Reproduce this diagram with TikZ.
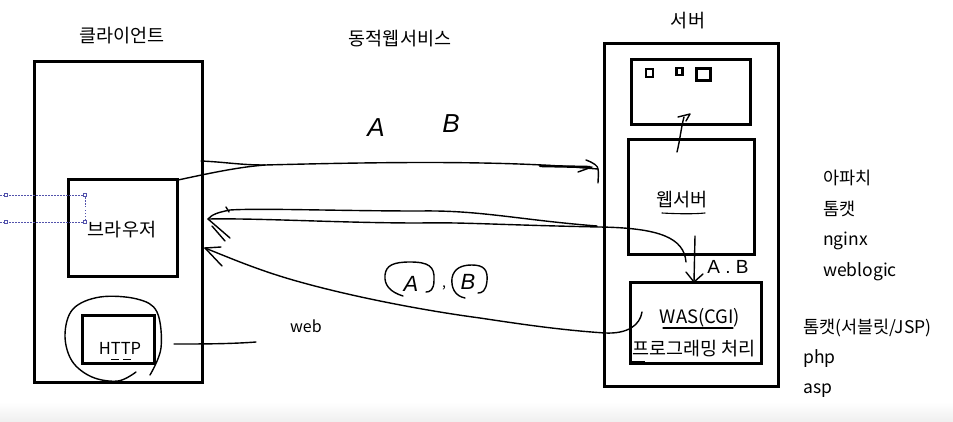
\documentclass[tikz,border=0pt]{standalone}
\usepackage{fontspec}
\setmainfont{Noto Sans CJK KR}
\newfontfamily\handfont{Liberation Sans}
\usetikzlibrary{calc}
\begin{document}
\begin{tikzpicture}[x=1pt,y=-1pt,
  box/.style={draw, line width=2.8pt, inner sep=0pt, anchor=north west},
  lbl/.style={inner sep=0pt, font=\fontsize{18.5}{20}\selectfont},
  lst/.style={inner sep=0pt, anchor=west, font=\fontsize{17.5}{19}\selectfont},
  hand/.style={line width=1.4pt, line cap=round, line join=round},
  handtxt/.style={inner sep=0pt, font=\handfont\itshape\fontsize{26}{28}\selectfont},
  sel/.style={draw=blue!35!gray, line width=0.5pt, dashed, dash pattern=on 1.5pt off 1.5pt},
  handle/.style={draw=blue!35!gray, line width=0.5pt, fill=white, minimum size=3pt, inner sep=0pt}
]
\useasboundingbox (0,0) rectangle (953,421);
\shade[top color=white, bottom color=black!6] (0,402) rectangle (953,421);

% titles
\node[lbl] (tclient) at (122,36) {클라이언트};
\node[lbl] (tdyn) at (400,39) {동적웹서비스};
\node[lbl] (tserver) at (688,21) {서버};

% client side
\node[box, minimum width=168pt, minimum height=321pt] (client) at (33,60) {};
\node[box, minimum width=109pt, minimum height=97pt] (browser) at (67,178) {};
\node[lbl] (tbrowser) at (122,230) {브라우저};
\node[box, minimum width=72pt, minimum height=48pt] (http) at (81,314) {};
\node[lbl, font=\fontsize{16.5}{18}\selectfont] (thttp) at (120,348) {HTTP};
\draw[line width=0.9pt] (111,359) -- (119,359) (123,359) -- (131,359);
\draw[hand] plot[smooth, tension=0.6] coordinates {(150,375) (161,348) (157,312) (137,299) (100,297) (73,309) (65,335) (72,361) (92,377) (118,381) (136,372)};
\coordinate (webL) at (174,344);
\coordinate (webR) at (256,342);
\draw[hand] (webL) .. controls (200,344) and (230,344) .. (webR);
\node[lst, font=\fontsize{16}{18}\selectfont] (tweb) at (290,326) {web};

% selection handles
\coordinate (s1a) at (0,195); \coordinate (s1b) at (85,195);
\coordinate (s2a) at (0,222); \coordinate (s2b) at (85,222);
\draw[sel] (s1a) -- (s1b) -- ++(0,12);
\draw[sel] (s2a) -- (s2b) -- ++(0,-12);
\node[handle] (h1) at (6,195) {};
\node[handle] (h2) at (s1b) {};
\node[handle] (h3) at (6,222) {};
\node[handle] (h4) at (s2b) {};

% server side
\node[box, minimum width=174pt, minimum height=343pt] (server) at (603,42) {};
\node[box, minimum width=119pt, minimum height=65pt] (top) at (630,58) {};
\node[draw, line width=2.2pt, minimum width=7pt, minimum height=8pt, inner sep=0pt] (sq1) at (649.5,73) {};
\node[draw, line width=2.2pt, minimum width=6pt, minimum height=7pt, inner sep=0pt] (sq2) at (679.5,71.5) {};
\node[draw, line width=2.2pt, minimum width=14pt, minimum height=12pt, inner sep=0pt] (sq3) at (703.5,74.5) {};
\node[box, minimum width=126pt, minimum height=115pt] (websrv) at (627,138) {};
\node[lbl] (twebsrv) at (682,200) {웹서버};
\draw[hand, line width=1.1pt] (662,213) .. controls (680,214) and (695,214) .. (705,213);
\node[box, minimum width=131pt, minimum height=81pt] (was) at (629,281) {};
\node[lbl] (twas) at (700,318) {WAS(CGI)};
\draw[hand, line width=1.1pt] (663,328) -- (733,328);
\node[lbl] (tprog) at (694,349) {프로그래밍 처리};
\draw[line width=0.8pt] (632,361) -- (645,361);

% small arrow web server -> top box
\coordinate (upS) at (677,152);
\coordinate (upE) at (684,117);
\draw[hand] (upS) .. controls (680,140) and (681,128) .. (upE);
\draw[hand] (678,117) -- (690,114) -- (686,121);

% arrow web server -> WAS
\coordinate (dnS) at (695,236);
\coordinate (dnE) at (694,282);
\draw[hand] (dnS) -- (dnE);
\draw[hand] (686,272) -- (694,282) -- (703,274);
\node[handtxt, font=\handfont\fontsize{19}{20}\selectfont] (tab) at (728,267) {A . B};

% right list
\node[lst] (l1) at (823,178) {아파치};
\node[lst] (l2) at (823,209) {톰캣};
\node[lst] (l3) at (823,241) {nginx};
\node[lst] (l4) at (823,272) {weblogic};
\node[lst] (l5) at (803,328) {톰캣(서블릿/JSP)};
\node[lst] (l6) at (803,359) {php};
\node[lst] (l7) at (803,391) {asp};

% handwritten A B
\node[handtxt] (hA) at (376,128) {A};
\node[handtxt] (hB) at (451,124) {B};

% request arrow
\coordinate (r1) at (201,161);
\coordinate (r2) at (178,180);
\coordinate (rm) at (265,165);
\coordinate (rE) at (598,169);
\draw[hand] (r1) .. controls (225,162) and (240,165) .. (rm);
\draw[hand] (r2) .. controls (215,172) and (240,167) .. (rm);
\draw[hand] (rm) .. controls (380,162) and (480,161) .. (560,166) -- (rE);
\draw[hand, line width=2.4pt] (540,166) -- (590,167);
\draw[hand] (586,160) .. controls (594,163) and (598,166) .. (rE) .. controls (599,174) and (598,178) .. (598,183);
\draw[hand] (578,172) -- (592,167);

% response arrow (web server -> browser)
\coordinate (bS) at (686,262);
\coordinate (bE) at (208,219);
\draw[hand] (bS) .. controls (684,238) and (660,228) .. (600,227)
  .. controls (500,225) and (460,222) .. (420,223)
  .. controls (340,223) and (260,218) .. (bE);
\draw[hand] (597,226) .. controls (520,220) and (480,210) .. (420,211)
  .. controls (340,211) and (260,208) .. (230,210) .. controls (220,212) and (212,214) .. (bE);
\draw[hand] (bE) -- (230,238);
\draw[hand] (212,226) -- (225,241);
\draw[hand] (226,207) -- (229,212);

% response arrow (WAS -> browser)
\coordinate (wS) at (642,312);
\coordinate (wE) at (205,248);
\draw[hand] (wS) .. controls (640,325) and (628,334) .. (605,333)
  .. controls (560,330) and (520,324) .. (480,318)
  .. controls (420,310) and (350,296) .. (300,282)
  .. controls (260,271) and (230,258) .. (wE);
\draw[hand] (wE) -- (221,247);
\draw[hand] (wE) -- (222,266);

% circled A, B
\node[handtxt, font=\handfont\itshape\fontsize{22}{24}\selectfont] (cA) at (411,284) {A};
\draw[hand] (403,296) .. controls (390,292) and (384,285) .. (385,275) .. controls (386,265) and (394,262) .. (410,262) .. controls (428,262) and (435,266) .. (434,280) .. controls (434,290) and (430,292) .. (426,292);
\node[inner sep=0pt, font=\fontsize{14}{14}\selectfont] (comma) at (444,288) {,};
\node[handtxt, font=\handfont\itshape\fontsize{22}{24}\selectfont] (cB) at (468,282) {B};
\draw[hand] (465,298) .. controls (455,296) and (451,288) .. (452,278) .. controls (454,268) and (462,265) .. (472,265) .. controls (484,265) and (488,270) .. (487,281) .. controls (486,291) and (482,293) .. (478,293);
\end{tikzpicture}
\end{document}
